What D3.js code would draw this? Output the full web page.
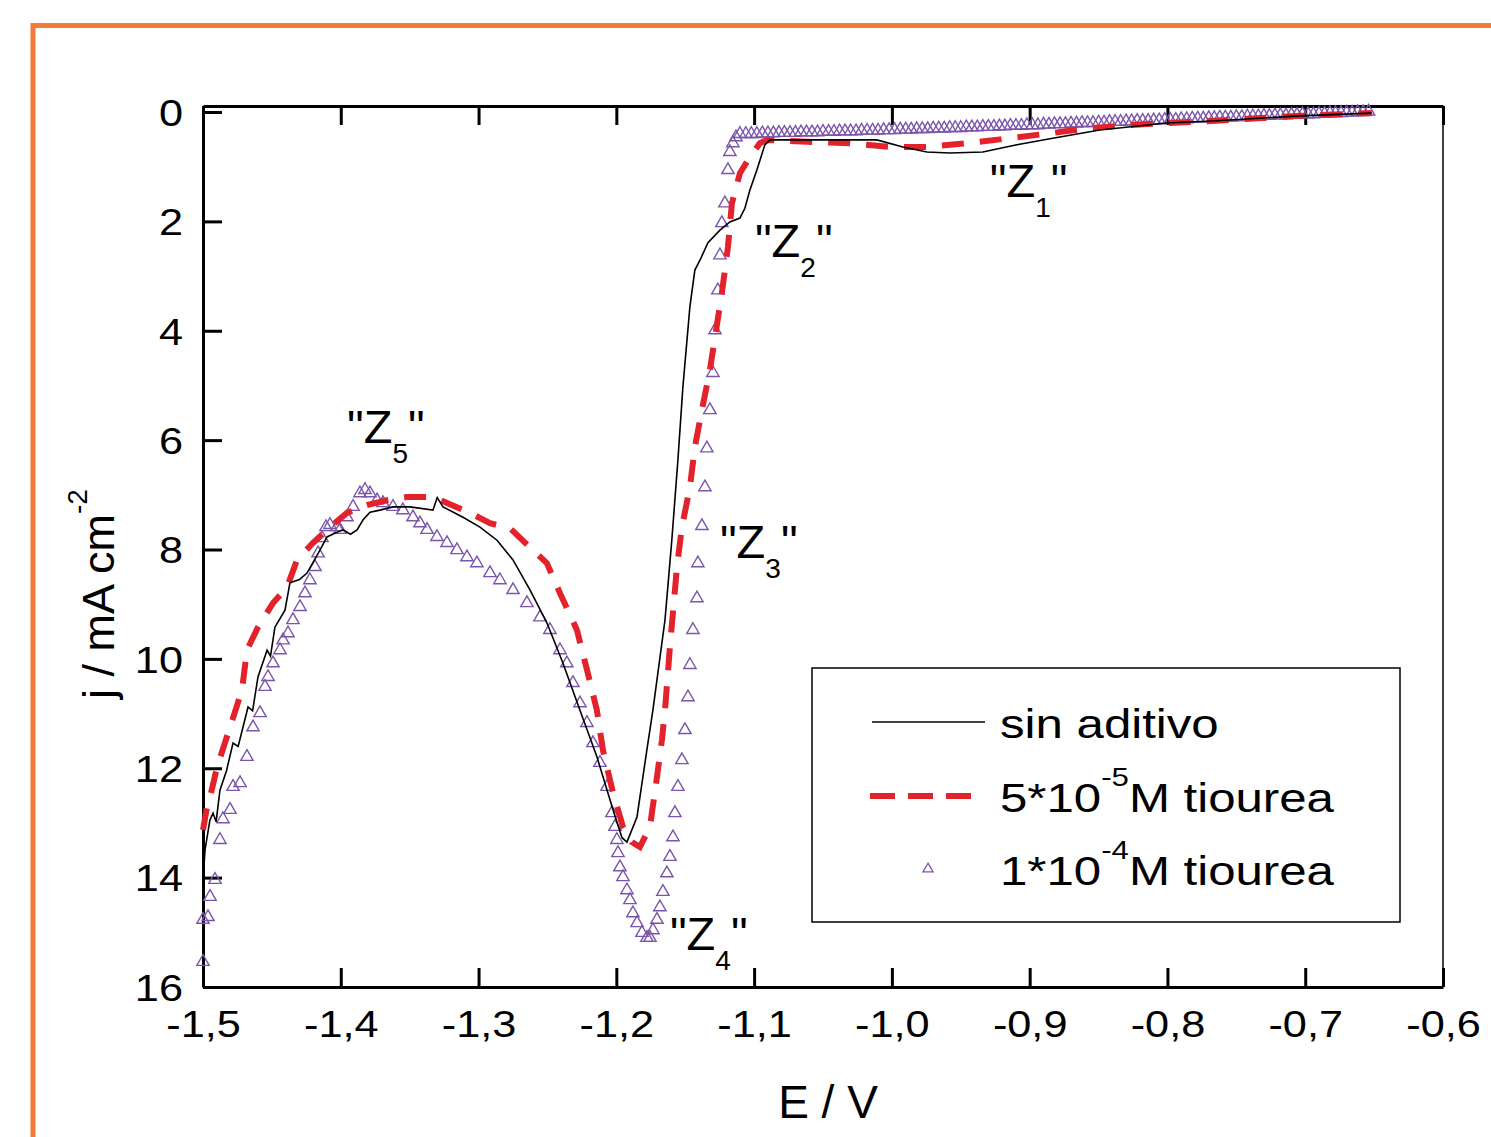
<!DOCTYPE html>
<html>
<head>
<meta charset="utf-8">
<script src="https://cdnjs.cloudflare.com/ajax/libs/d3/7.8.5/d3.min.js"></script>
<style>
body { margin: 0; background: #fff; }
text { font-family: "Liberation Sans", Arial, sans-serif; fill: #000; }
</style>
</head>
<body>
<div id="vis"></div>
<script>
// axis ticks
const xTicks = [-1.5, -1.4, -1.3, -1.2, -1.1, -1.0, -0.9, -0.8, -0.7, -0.6];
const yTicks = [0, 2, 4, 6, 8, 10, 12, 14, 16];

const seriesNames = ["sin aditivo", "5*10", "1*10"];

// [E (V), j (mA cm-2)]
const sinAditivo = [
  [-1.5000, 14.04], [-1.4985, 13.49], [-1.4950, 12.95], [-1.4927, 12.82], [-1.4905, 12.98],
  [-1.4877, 12.40], [-1.4830, 12.05], [-1.4782, 11.54], [-1.4745, 11.60], [-1.4710, 11.25],
  [-1.4673, 10.88], [-1.4640, 10.95], [-1.4601, 10.33], [-1.4535, 9.84], [-1.4510, 9.95],
  [-1.4478, 9.42], [-1.4405, 9.11], [-1.4369, 8.61], [-1.4300, 8.55], [-1.4245, 8.43],
  [-1.4151, 8.01], [-1.4100, 7.77], [-1.4040, 7.70], [-1.3984, 7.64], [-1.3930, 7.72],
  [-1.3882, 7.64], [-1.3839, 7.46], [-1.3788, 7.32], [-1.3716, 7.28], [-1.3621, 7.22],
  [-1.3498, 7.22], [-1.3331, 7.28], [-1.3300, 7.05], [-1.3258, 7.22], [-1.3113, 7.41],
  [-1.2990, 7.59], [-1.2866, 7.83], [-1.2750, 8.19], [-1.2627, 8.74], [-1.2504, 9.34],
  [-1.2387, 10.08], [-1.2264, 10.94], [-1.2141, 11.79], [-1.2024, 12.76], [-1.1959, 13.27],
  [-1.1923, 13.35], [-1.1850, 12.89], [-1.1778, 11.66], [-1.1734, 10.93], [-1.1647, 9.29],
  [-1.1597, 7.82], [-1.1553, 6.36], [-1.1517, 5.03], [-1.1466, 3.56], [-1.1430, 2.89],
  [-1.1393, 2.71], [-1.1335, 2.39], [-1.1248, 2.16], [-1.1176, 2.01], [-1.1103, 1.94],
  [-1.1067, 1.76], [-1.1031, 1.43], [-1.0980, 1.06], [-1.0922, 0.60], [-1.0885, 0.51],
  [-1.0109, 0.51], [-0.9920, 0.64], [-0.9746, 0.73], [-0.9579, 0.75], [-0.9340, 0.73],
  [-0.9093, 0.60], [-0.8853, 0.49], [-0.8491, 0.33], [-0.8004, 0.20], [-0.7642, 0.16],
  [-0.7040, 0.07], [-0.6517, 0.02]
];

const tiourea5e5 = [
  [-1.5000, 13.13], [-1.4971, 12.71], [-1.4949, 12.53], [-1.4898, 11.98], [-1.4804, 11.25],
  [-1.4717, 10.57], [-1.4681, 9.84], [-1.4601, 9.42], [-1.4492, 8.98], [-1.4390, 8.69],
  [-1.4318, 8.19], [-1.4202, 7.88], [-1.4078, 7.59], [-1.3955, 7.33], [-1.3810, 7.19],
  [-1.3665, 7.10], [-1.3520, 7.04], [-1.3331, 7.04], [-1.3229, 7.15], [-1.3062, 7.33],
  [-1.2917, 7.52], [-1.2772, 7.61], [-1.2627, 7.96], [-1.2504, 8.25], [-1.2409, 8.80],
  [-1.2286, 9.47], [-1.2213, 10.20], [-1.2141, 10.94], [-1.2097, 11.67], [-1.2024, 12.45],
  [-1.1952, 13.07], [-1.1887, 13.35], [-1.1829, 13.44], [-1.1756, 13.07], [-1.1705, 12.16],
  [-1.1669, 11.48], [-1.1647, 10.94], [-1.1611, 9.78], [-1.1560, 8.32], [-1.1524, 7.59],
  [-1.1466, 6.86], [-1.1430, 6.13], [-1.1379, 5.45], [-1.1321, 4.72], [-1.1234, 3.31],
  [-1.1190, 2.47], [-1.1161, 1.67], [-1.1103, 1.12], [-1.1045, 0.88], [-1.0958, 0.57],
  [-1.0907, 0.51], [-1.0544, 0.55], [-1.0305, 0.57], [-1.0015, 0.64], [-0.9746, 0.64],
  [-0.9456, 0.57], [-0.9216, 0.50], [-0.8853, 0.39], [-0.8585, 0.30], [-0.8295, 0.24],
  [-0.8004, 0.20], [-0.7714, 0.17], [-0.7040, 0.07], [-0.6517, 0.02]
];

const tiourea1e4 = [
  [-1.5000, 15.54], [-1.5000, 14.77], [-1.4964, 14.72], [-1.4949, 14.35], [-1.4913, 14.04],
  [-1.4877, 13.31], [-1.4855, 12.93], [-1.4804, 12.76], [-1.4782, 12.34], [-1.4731, 12.27],
  [-1.4681, 11.79], [-1.4637, 11.25], [-1.4586, 10.99], [-1.4550, 10.51], [-1.4528, 10.33],
  [-1.4492, 10.08], [-1.4441, 9.84], [-1.4419, 9.66], [-1.4383, 9.53], [-1.4347, 9.29],
  [-1.4296, 9.05], [-1.4260, 8.80], [-1.4224, 8.56], [-1.4187, 8.32], [-1.4165, 8.07],
  [-1.4136, 7.79], [-1.4107, 7.59], [-1.4078, 7.55], [-1.4028, 7.59], [-1.4006, 7.64],
  [-1.3955, 7.41], [-1.3911, 7.22], [-1.3861, 6.97], [-1.3824, 6.91], [-1.3788, 6.97],
  [-1.3737, 7.10], [-1.3694, 7.15], [-1.3621, 7.22], [-1.3549, 7.28], [-1.3476, 7.41],
  [-1.3425, 7.52], [-1.3374, 7.64], [-1.3302, 7.77], [-1.3229, 7.88], [-1.3157, 8.01],
  [-1.3084, 8.14], [-1.3012, 8.25], [-1.2917, 8.43], [-1.2845, 8.56], [-1.2750, 8.74],
  [-1.2649, 8.98], [-1.2554, 9.24], [-1.2482, 9.47], [-1.2409, 9.84], [-1.2359, 10.08],
  [-1.2315, 10.44], [-1.2264, 10.81], [-1.2213, 11.17], [-1.2170, 11.54], [-1.2119, 11.90],
  [-1.2068, 12.34], [-1.2032, 12.82], [-1.2010, 13.07], [-1.1996, 13.31], [-1.1988, 13.55],
  [-1.1974, 13.81], [-1.1952, 13.99], [-1.1923, 14.23], [-1.1901, 14.41], [-1.1880, 14.65],
  [-1.1850, 14.83], [-1.1814, 15.01], [-1.1778, 15.10], [-1.1756, 15.10], [-1.1734, 14.96],
  [-1.1705, 14.77], [-1.1684, 14.54], [-1.1662, 14.26], [-1.1633, 13.92], [-1.1611, 13.62],
  [-1.1589, 13.26], [-1.1575, 12.82], [-1.1553, 12.34], [-1.1524, 11.85], [-1.1502, 11.30],
  [-1.1480, 10.70], [-1.1466, 10.11], [-1.1444, 9.47], [-1.1415, 8.89], [-1.1408, 8.25],
  [-1.1379, 7.57], [-1.1357, 6.86], [-1.1343, 6.15], [-1.1321, 5.45], [-1.1299, 4.77],
  [-1.1284, 3.99], [-1.1263, 3.26], [-1.1248, 2.62], [-1.1234, 2.03], [-1.1212, 1.67],
  [-1.1190, 1.06], [-1.1176, 0.73], [-1.1154, 0.57], [-1.1132, 0.46], [-1.1103, 0.40],
  [-1.106, 0.40], [-1.102, 0.40], [-1.098, 0.40], [-1.094, 0.39], [-1.090, 0.39], [-1.086, 0.39],
  [-1.082, 0.38], [-1.078, 0.38], [-1.074, 0.38], [-1.070, 0.38], [-1.066, 0.37], [-1.062, 0.37],
  [-1.058, 0.37], [-1.054, 0.37], [-1.050, 0.36], [-1.046, 0.36], [-1.042, 0.36], [-1.038, 0.35],
  [-1.034, 0.35], [-1.030, 0.35], [-1.026, 0.35], [-1.022, 0.34], [-1.018, 0.34], [-1.014, 0.34],
  [-1.010, 0.34], [-1.006, 0.33], [-1.002, 0.33], [-0.998, 0.33], [-0.994, 0.32], [-0.990, 0.32],
  [-0.986, 0.32], [-0.982, 0.31], [-0.978, 0.31], [-0.974, 0.31], [-0.970, 0.30], [-0.966, 0.30],
  [-0.962, 0.30], [-0.958, 0.29], [-0.954, 0.29], [-0.950, 0.29], [-0.946, 0.28], [-0.942, 0.28],
  [-0.938, 0.28], [-0.934, 0.27], [-0.930, 0.27], [-0.926, 0.27], [-0.922, 0.26], [-0.918, 0.26],
  [-0.914, 0.25], [-0.910, 0.25], [-0.906, 0.25], [-0.902, 0.24], [-0.898, 0.24], [-0.894, 0.24],
  [-0.890, 0.23], [-0.886, 0.23], [-0.882, 0.22], [-0.878, 0.22], [-0.874, 0.22], [-0.870, 0.21],
  [-0.866, 0.21], [-0.862, 0.20], [-0.858, 0.20], [-0.854, 0.20], [-0.850, 0.19], [-0.846, 0.19],
  [-0.842, 0.18], [-0.838, 0.18], [-0.834, 0.18], [-0.830, 0.17], [-0.826, 0.17], [-0.822, 0.16],
  [-0.818, 0.16], [-0.814, 0.16], [-0.810, 0.15], [-0.806, 0.15], [-0.802, 0.14], [-0.798, 0.14],
  [-0.794, 0.14], [-0.790, 0.13], [-0.786, 0.13], [-0.782, 0.12], [-0.778, 0.12], [-0.774, 0.12],
  [-0.770, 0.11], [-0.766, 0.11], [-0.762, 0.10], [-0.758, 0.10], [-0.754, 0.10], [-0.750, 0.09],
  [-0.746, 0.09], [-0.742, 0.08], [-0.738, 0.08], [-0.734, 0.08], [-0.730, 0.07], [-0.726, 0.07],
  [-0.722, 0.06], [-0.718, 0.06], [-0.714, 0.06], [-0.710, 0.05], [-0.706, 0.05], [-0.702, 0.04],
  [-0.698, 0.04], [-0.694, 0.04], [-0.690, 0.03], [-0.686, 0.03], [-0.682, 0.02], [-0.678, 0.02],
  [-0.674, 0.02], [-0.670, 0.01], [-0.666, 0.01], [-0.662, 0.00], [-0.658, 0.00], [-0.654, -0.01]
];

// zone labels "Zn", anchored at [E, j] of the text start
const zoneLabels = [
  { n: "1", E: -0.9289, j: 1.55 },
  { n: "2", E: -1.0994, j: 2.65 },
  { n: "3", E: -1.1248, j: 8.15 },
  { n: "4", E: -1.1611, j: 15.32 },
  { n: "5", E: -1.3955, j: 6.05 }
];

const W = 1491, H = 1137;
const plotL = 203, plotR = 1443, plotT = 106, plotB = 987;

const svg = d3.select("#vis").append("svg")
  .attr("width", W)
  .attr("height", H)
  .style("display", "block");

svg.append("rect").attr("width", W).attr("height", H).attr("fill", "#fff");

// orange frame of the figure
svg.append("path")
  .attr("d", "M33," + H + " L33,25.5 L" + W + ",25.5")
  .attr("fill", "none")
  .attr("stroke", "#f47a38")
  .attr("stroke-width", 5);

const x = d3.scaleLinear().domain([-1.5, -0.6]).range([plotL, plotR]);
const y = d3.scaleLinear().domain([-0.11, 16]).range([plotT, plotB]);

const fmtX = d => d.toFixed(1).replace(".", ",");
const tickStretch = 1.17;

// bottom axis
const gx = svg.append("g")
  .attr("transform", "translate(0," + plotB + ")")
  .call(d3.axisBottom(x).tickValues(xTicks).tickFormat(fmtX)
    .tickSizeInner(-19).tickSizeOuter(0).tickPadding(24));
gx.selectAll("text")
  .attr("transform", "scale(" + tickStretch + ",1)")
  .style("font-size", "37px")
  .style("font-family", "'Liberation Sans', Arial, sans-serif");

// top axis, ticks only
svg.append("g")
  .attr("transform", "translate(0," + plotT + ")")
  .call(d3.axisTop(x).tickValues(xTicks).tickFormat("")
    .tickSizeInner(-19).tickSizeOuter(0));

// left axis
const gy = svg.append("g")
  .attr("transform", "translate(" + plotL + ",0)")
  .call(d3.axisLeft(y).tickValues(yTicks).tickFormat(d => d)
    .tickSizeInner(-19).tickSizeOuter(0).tickPadding(20));
gy.selectAll("text")
  .attr("x", -20 / tickStretch)
  .attr("dy", "0.36em")
  .attr("transform", "scale(" + tickStretch + ",1)")
  .style("font-size", "37px")
  .style("font-family", "'Liberation Sans', Arial, sans-serif");

svg.selectAll(".tick line").attr("stroke", "#000").attr("stroke-width", 3);
svg.selectAll(".domain").attr("stroke", "#000").attr("stroke-width", 3);

// right border, thin
svg.append("line")
  .attr("x1", plotR).attr("x2", plotR)
  .attr("y1", plotT).attr("y2", plotB)
  .attr("stroke", "#000").attr("stroke-width", 1.5);

// series
const line = d3.line().x(d => x(d[0])).y(d => y(d[1]));
const triColor = "#7b55ab";
const redColor = "#e4222b";
const tri = d3.symbol().type(d3.symbolTriangle).size(66);

svg.append("g")
  .selectAll("path")
  .data(tiourea1e4)
  .enter()
  .append("path")
  .attr("d", tri)
  .attr("transform", d => "translate(" + x(d[0]) + "," + y(d[1]) + ")")
  .attr("fill", "none")
  .attr("stroke", triColor)
  .attr("stroke-width", 1.4);

svg.append("path")
  .datum(tiourea5e5)
  .attr("d", line)
  .attr("fill", "none")
  .attr("stroke", redColor)
  .attr("stroke-width", 6)
  .attr("stroke-dasharray", "22,16");

svg.append("path")
  .datum(sinAditivo)
  .attr("d", line)
  .attr("fill", "none")
  .attr("stroke", "#000")
  .attr("stroke-width", 1.6);

// zone annotations
const zl = svg.append("g").selectAll("text")
  .data(zoneLabels)
  .enter()
  .append("text")
  .attr("x", d => x(d.E))
  .attr("y", d => y(d.j))
  .style("font-size", "47px");
zl.append("tspan").text("\"Z");
zl.append("tspan").attr("dy", 20).style("font-size", "28px").text(d => d.n);
zl.append("tspan").attr("dy", -20).text("\"");

// axis titles
svg.append("text")
  .attr("x", 828)
  .attr("y", 1118)
  .attr("text-anchor", "middle")
  .style("font-size", "46px")
  .text("E / V");

const yt = svg.append("text")
  .attr("transform", "translate(114,594) rotate(-90)")
  .attr("text-anchor", "middle")
  .style("font-size", "45px");
yt.append("tspan").text("j / mA cm");
yt.append("tspan").attr("dy", -27).style("font-size", "28px").text("-2");

// legend
const lg = svg.append("g");
lg.append("rect")
  .attr("x", 812).attr("y", 668)
  .attr("width", 588).attr("height", 254)
  .attr("fill", "#fff")
  .attr("stroke", "#000")
  .attr("stroke-width", 1.5);

lg.append("line")
  .attr("x1", 872).attr("x2", 985).attr("y1", 722).attr("y2", 722)
  .attr("stroke", "#000").attr("stroke-width", 1.6);
lg.append("line")
  .attr("x1", 870).attr("x2", 972).attr("y1", 796).attr("y2", 796)
  .attr("stroke", redColor).attr("stroke-width", 6)
  .attr("stroke-dasharray", "25,13");
lg.append("path")
  .attr("d", d3.symbol().type(d3.symbolTriangle).size(44))
  .attr("transform", "translate(928,869)")
  .attr("fill", "none")
  .attr("stroke", triColor)
  .attr("stroke-width", 1.3);

const legStretch = 1.2;
lg.append("text")
  .attr("transform", "translate(1000,738) scale(" + legStretch + ",1)")
  .style("font-size", "41px")
  .text(seriesNames[0]);

const lt2 = lg.append("text")
  .attr("transform", "translate(1000,812) scale(" + legStretch + ",1)")
  .style("font-size", "41px");
lt2.append("tspan").text(seriesNames[1]);
lt2.append("tspan").attr("dy", -26).style("font-size", "26px").text("-5");
lt2.append("tspan").attr("dy", 26).text("M tiourea");

const lt3 = lg.append("text")
  .attr("transform", "translate(1000,885) scale(" + legStretch + ",1)")
  .style("font-size", "41px");
lt3.append("tspan").text(seriesNames[2]);
lt3.append("tspan").attr("dy", -26).style("font-size", "26px").text("-4");
lt3.append("tspan").attr("dy", 26).text("M tiourea");
</script>
</body>
</html>
